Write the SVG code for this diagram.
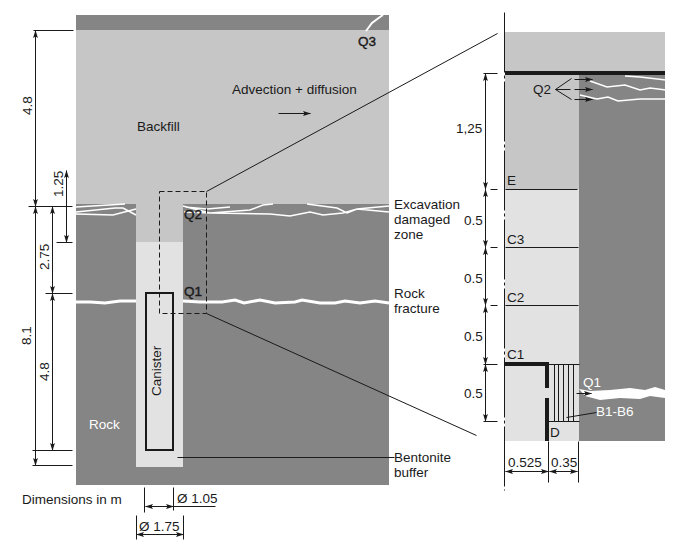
<svg xmlns="http://www.w3.org/2000/svg" width="678" height="544" viewBox="0 0 678 544">
<defs>
<marker id="a" markerWidth="8" markerHeight="6" refX="7.5" refY="3" orient="auto-start-reverse" markerUnits="userSpaceOnUse"><path d="M0 .6L8 3L0 5.4L1.5 3Z" fill="#1a1a1a"/></marker>
</defs>
<style>
text{font-family:"Liberation Sans",Arial,sans-serif;font-size:13.5px;fill:#1a1a1a}
.l{stroke:#1a1a1a;stroke-width:1;fill:none;transform:translate(.5px,.5px)}
.d{stroke:#1a1a1a;stroke-width:1;fill:none;marker-start:url(#a);marker-end:url(#a);transform:translate(.5px,.5px)}
.e{stroke:#1a1a1a;stroke-width:1;fill:none;marker-end:url(#a);transform:translate(.5px,.5px)}
.f{stroke:#fff;stroke-width:1.5;fill:none}
.k{stroke:#fff;stroke-width:3;fill:none}
.q{stroke:#fff;stroke-width:2;fill:none}
.t{stroke:#1a1a1a;stroke-width:4;fill:none}
text.w{fill:#fff}
text.b{stroke:#1a1a1a;stroke-width:.4}
</style>
<g id="main-section">
<rect x="76" y="15" width="313" height="470" fill="#858585"/>
<rect x="76" y="30" width="313" height="174" fill="#c6c6c6"/>
<rect x="136" y="204" width="47" height="38" fill="#c6c6c6"/>
<rect x="136" y="242" width="47" height="225" fill="#e2e2e2"/>
<g id="edz-fractures">
<path class="f" d="M76 207L125 204M76 212L115 208L123 208L136 215M76 214L113 215L136 209"/>
<path class="f" d="M183 206L210 213L250 210L263 205L273 204M185 207L207 209L230 207M184 212L210 213L270 214L290 216L310 212L323 215L343 213L357 209L389 212M307 204L337 208L347 213L357 209L389 206"/>
</g>
<g id="rock-fracture">
<path class="k" d="M76 302L90 302L105 303L120 301L136 301"/>
<path class="k" d="M183 301L200 302L222 302L235 300L244 303L260 300L275 303L295 302L302 300L320 303L335 303L345 301L360 303L375 301L389 303"/>
</g>
<path id="q3-fracture" class="q" d="M366 31L372 23L380 17L383 15"/>
<text class="b" x="358" y="46">Q3</text>
<text x="137" y="131">Backfill</text>
<text x="232" y="94">Advection + diffusion</text>
<path class="e" d="M278 113L310 113"/>
<text class="b" x="184" y="219">Q2</text>
<text class="b" x="184" y="296">Q1</text>
<text class="w" x="89" y="429">Rock</text>
</g>
<g id="canister">
<rect x="146" y="293" width="27" height="157" fill="none" stroke="#1a1a1a" stroke-width="2"/>
<text transform="translate(161,396) rotate(-90)">Canister</text>
</g>
<g id="labels">
<text x="394" y="209">Excavation</text>
<text x="394" y="224">damaged</text>
<text x="394" y="239">zone</text>
<text x="394" y="298">Rock</text>
<text x="394" y="313">fracture</text>
<text x="394" y="462">Bentonite</text>
<text x="394" y="477">buffer</text>
<text x="22" y="504">Dimensions in m</text>
</g>
<g id="connectors">
<rect class="l" x="159" y="191" width="47" height="122" stroke-dasharray="5 3"/>
<path class="l" d="M206 191L497 33M206 313L476 435M177 457L394 457"/>
<path class="l" d="M33 30H73M28 206H72M56 242H72M45 293H72M32 465H72M32 450H72"/>
<path class="d" d="M35 30V206"/>
<path class="d" d="M35 206V465"/>
<path class="d" d="M52 206V293"/>
<path class="d" d="M52 293V450"/>
<path class="d" d="M66 170V242"/>
<text transform="translate(32,115) rotate(-90)">4.8</text>
<text transform="translate(63,197) rotate(-90)">1.25</text>
<text transform="translate(49,270) rotate(-90)">2.75</text>
<text transform="translate(31,345) rotate(-90)">8.1</text>
<text transform="translate(49,381) rotate(-90)">4.8</text>
<path class="l" d="M144 487V512M173 487V510M136 515V539M183 515V539M173 506H215"/>
<path class="d" d="M145 506H173"/>
<path class="d" d="M136 534H183"/>
<text x="177" y="503">Ø 1.05</text>
<text x="139" y="531">Ø 1.75</text>
</g>
<g id="detail">
<rect x="505" y="32" width="160" height="409" fill="#e2e2e2"/>
<rect x="505" y="32" width="160" height="41" fill="#c6c6c6"/>
<rect x="505" y="73" width="74" height="116" fill="#c6c6c6"/>
<rect x="579" y="73" width="86" height="368" fill="#858585"/>
<path class="f" d="M590 81L607 87L625 85L640 90L650 88L666 90M625 76L640 77L666 80M580 95L597 99L608 97L618 101L640 99L666 99"/>
<path fill="#fff" d="M579 389L590 391L610 390L630 388L645 390L655 387L665 390V398L650 396L640 399L620 398L600 400L585 396Z"/>
<path class="t" d="M505 73H665"/>
<path class="l" d="M504 12V490" stroke-dasharray="60 3 3 3"/>
<path class="t" d="M505 364H547M547 362V388M547 398V441"/>
<path class="l" d="M505 189H577M505 247H578M505 305H578M547 364H579M547 421H579M554 364V421M558 364V421M563 364V421M568 364V421M573 364V421"/>
<path class="l" d="M566 417L596 412"/>
<path class="e" d="M576 393H591"/>
<path class="l" d="M571 78L555 89L571 99M555 89H570"/>
<path class="e" d="M574 79H592"/>
<path class="e" d="M574 89H592"/>
<path class="e" d="M574 99H592"/>
<path class="l" d="M483 73H497M490 189H497M490 247H497M490 305H497M483 364H497M483 421H497M548 441V482M578 441V482"/>
<path class="d" d="M485 73V189"/>
<path class="d" d="M485 189V247"/>
<path class="d" d="M485 247V305"/>
<path class="d" d="M485 305V364"/>
<path class="d" d="M485 364V421"/>
<path class="d" d="M505 471H548"/>
<path class="d" d="M549 471H577"/>
<text x="533" y="94">Q2</text>
<text x="507" y="185">E</text>
<text x="507" y="244">C3</text>
<text x="507" y="302">C2</text>
<text x="507" y="359">C1</text>
<text class="w" x="583" y="387">Q1</text>
<text class="w" x="596" y="416">B1-B6</text>
<text x="550" y="437">D</text>
<text x="456" y="133">1,25</text>
<text x="464" y="225">0.5</text>
<text x="464" y="283">0.5</text>
<text x="464" y="341">0.5</text>
<text x="464" y="398">0.5</text>
<text x="508" y="467">0.525</text>
<text x="551" y="467">0.35</text>
</g>
</svg>
